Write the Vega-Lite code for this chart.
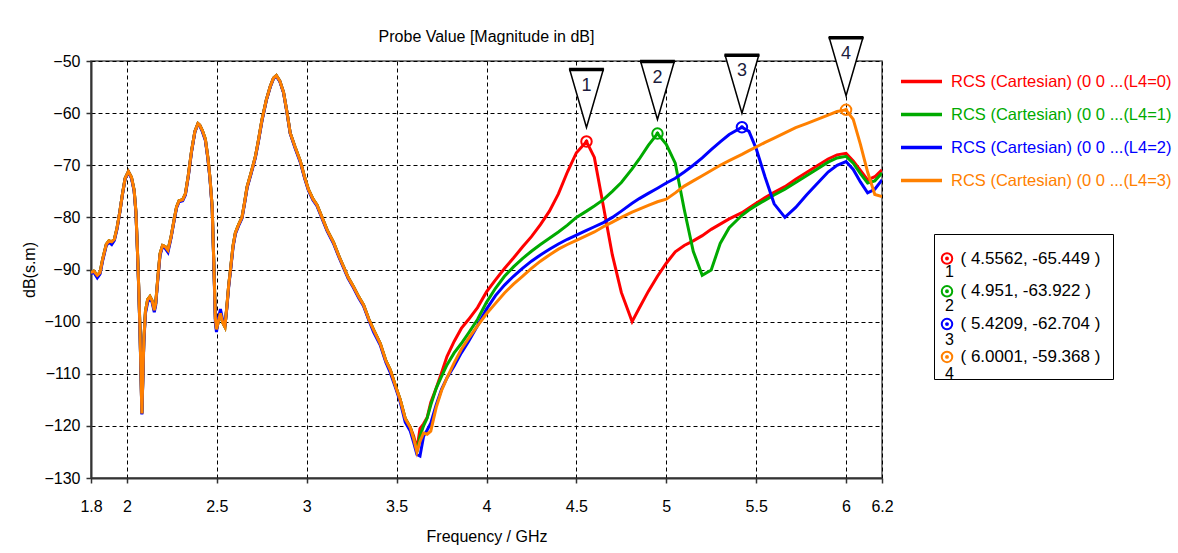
{
  "$schema": "https://vega.github.io/schema/vega-lite/v6.json",
  "width": 791,
  "height": 417,
  "autosize": {"type": "none"},
  "padding": {"left": 91, "top": 61, "right": 296, "bottom": 75},
  "background": "white",
  "title": {
    "text": "Probe Value [Magnitude in dB]",
    "fontSize": 16,
    "fontWeight": "normal",
    "font": "Liberation Sans",
    "color": "#000",
    "anchor": "middle",
    "baseline": "alphabetic",
    "offset": -27
  },
  "config": {
    "view": {"stroke": "#555", "strokeWidth": 1.5},
    "axis": {
      "labelFont": "Liberation Sans",
      "labelFontSize": 16,
      "labelColor": "#000",
      "titleFont": "Liberation Sans",
      "titleFontSize": 16,
      "titleFontWeight": "normal",
      "titleColor": "#000",
      "grid": true,
      "gridColor": "#000",
      "gridDash": [4, 3],
      "gridWidth": 1,
      "gridOpacity": 1,
      "tickColor": "#333",
      "tickSize": 5,
      "tickWidth": 1.5,
      "domainColor": "#333",
      "domainWidth": 2
    },
    "legend": {"labelFont": "Liberation Sans", "titleFont": "Liberation Sans"}
  },
  "datasets": {
    "curves": [
      {"f": 1.8, "L4=0": -90.6, "L4=1": -90.6, "L4=2": -90.8, "L4=3": -90.6},
      {"f": 1.815, "L4=0": -90.3, "L4=1": -90.3, "L4=2": -90.5, "L4=3": -90.3},
      {"f": 1.835, "L4=0": -91.1, "L4=1": -91.1, "L4=2": -91.6, "L4=3": -91.1},
      {"f": 1.85, "L4=0": -90.6, "L4=1": -90.6, "L4=2": -90.9, "L4=3": -90.6},
      {"f": 1.865, "L4=0": -88.0, "L4=1": -88.0, "L4=2": -88.3, "L4=3": -88.0},
      {"f": 1.885, "L4=0": -85.2, "L4=1": -85.2, "L4=2": -85.4, "L4=3": -85.2},
      {"f": 1.9, "L4=0": -84.5, "L4=1": -84.5, "L4=2": -84.8, "L4=3": -84.5},
      {"f": 1.915, "L4=0": -84.7, "L4=1": -84.7, "L4=2": -85.2, "L4=3": -84.7},
      {"f": 1.93, "L4=0": -84.2, "L4=1": -84.2, "L4=2": -84.4, "L4=3": -84.2},
      {"f": 1.945, "L4=0": -82.0, "L4=1": -82.0, "L4=2": -82.2, "L4=3": -82.0},
      {"f": 1.96, "L4=0": -79.0, "L4=1": -79.0, "L4=2": -79.1, "L4=3": -79.0},
      {"f": 1.975, "L4=0": -75.5, "L4=1": -75.5, "L4=2": -75.6, "L4=3": -75.5},
      {"f": 1.99, "L4=0": -72.5, "L4=1": -72.5, "L4=2": -72.6, "L4=3": -72.5},
      {"f": 2.008, "L4=0": -71.2, "L4=1": -71.2, "L4=2": -71.3, "L4=3": -71.2},
      {"f": 2.025, "L4=0": -72.3, "L4=1": -72.3, "L4=2": -72.5, "L4=3": -72.3},
      {"f": 2.04, "L4=0": -74.8, "L4=1": -74.8, "L4=2": -75.0, "L4=3": -74.8},
      {"f": 2.05, "L4=0": -79.0, "L4=1": -79.0, "L4=2": -79.2, "L4=3": -79.0},
      {"f": 2.058, "L4=0": -86.0, "L4=1": -86.0, "L4=2": -86.2, "L4=3": -86.0},
      {"f": 2.065, "L4=0": -93.0, "L4=1": -93.0, "L4=2": -93.3, "L4=3": -93.0},
      {"f": 2.072, "L4=0": -101.0, "L4=1": -101.0, "L4=2": -101.5, "L4=3": -101.0},
      {"f": 2.078, "L4=0": -110.0, "L4=1": -110.0, "L4=2": -110.3, "L4=3": -110.0},
      {"f": 2.083, "L4=0": -117.6, "L4=1": -117.6, "L4=2": -117.8, "L4=3": -117.6},
      {"f": 2.089, "L4=0": -110.0, "L4=1": -110.0, "L4=2": -110.4, "L4=3": -110.0},
      {"f": 2.094, "L4=0": -103.5, "L4=1": -103.5, "L4=2": -104.0, "L4=3": -103.5},
      {"f": 2.103, "L4=0": -98.0, "L4=1": -98.0, "L4=2": -98.4, "L4=3": -98.0},
      {"f": 2.115, "L4=0": -95.8, "L4=1": -95.8, "L4=2": -96.3, "L4=3": -95.8},
      {"f": 2.128, "L4=0": -95.2, "L4=1": -95.2, "L4=2": -95.5, "L4=3": -95.2},
      {"f": 2.14, "L4=0": -96.0, "L4=1": -96.0, "L4=2": -96.3, "L4=3": -96.0},
      {"f": 2.152, "L4=0": -97.8, "L4=1": -97.8, "L4=2": -98.2, "L4=3": -97.8},
      {"f": 2.16, "L4=0": -96.5, "L4=1": -96.5, "L4=2": -96.8, "L4=3": -96.5},
      {"f": 2.172, "L4=0": -91.5, "L4=1": -91.5, "L4=2": -91.8, "L4=3": -91.5},
      {"f": 2.184, "L4=0": -87.0, "L4=1": -87.0, "L4=2": -87.3, "L4=3": -87.0},
      {"f": 2.198, "L4=0": -85.4, "L4=1": -85.4, "L4=2": -85.6, "L4=3": -85.4},
      {"f": 2.212, "L4=0": -85.6, "L4=1": -85.6, "L4=2": -85.9, "L4=3": -85.6},
      {"f": 2.228, "L4=0": -86.3, "L4=1": -86.3, "L4=2": -86.7, "L4=3": -86.3},
      {"f": 2.245, "L4=0": -83.8, "L4=1": -83.8, "L4=2": -84.0, "L4=3": -83.8},
      {"f": 2.262, "L4=0": -80.5, "L4=1": -80.5, "L4=2": -80.7, "L4=3": -80.5},
      {"f": 2.276, "L4=0": -78.0, "L4=1": -78.0, "L4=2": -78.2, "L4=3": -78.0},
      {"f": 2.29, "L4=0": -76.8, "L4=1": -76.8, "L4=2": -77.0, "L4=3": -76.8},
      {"f": 2.31, "L4=0": -76.6, "L4=1": -76.6, "L4=2": -76.8, "L4=3": -76.6},
      {"f": 2.325, "L4=0": -75.5, "L4=1": -75.5, "L4=2": -75.7, "L4=3": -75.5},
      {"f": 2.341, "L4=0": -72.0, "L4=1": -72.0, "L4=2": -72.2, "L4=3": -72.0},
      {"f": 2.36, "L4=0": -67.1, "L4=1": -67.1, "L4=2": -67.3, "L4=3": -67.1},
      {"f": 2.378, "L4=0": -63.5, "L4=1": -63.5, "L4=2": -63.6, "L4=3": -63.5},
      {"f": 2.395, "L4=0": -62.0, "L4=1": -62.0, "L4=2": -62.1, "L4=3": -62.0},
      {"f": 2.405, "L4=0": -62.3, "L4=1": -62.3, "L4=2": -62.4, "L4=3": -62.3},
      {"f": 2.42, "L4=0": -63.4, "L4=1": -63.4, "L4=2": -63.6, "L4=3": -63.4},
      {"f": 2.436, "L4=0": -65.0, "L4=1": -65.0, "L4=2": -65.2, "L4=3": -65.0},
      {"f": 2.45, "L4=0": -68.5, "L4=1": -68.5, "L4=2": -68.7, "L4=3": -68.5},
      {"f": 2.462, "L4=0": -72.5, "L4=1": -72.5, "L4=2": -72.7, "L4=3": -72.5},
      {"f": 2.474, "L4=0": -78.0, "L4=1": -78.0, "L4=2": -78.3, "L4=3": -78.0},
      {"f": 2.483, "L4=0": -88.5, "L4=1": -88.5, "L4=2": -88.9, "L4=3": -88.5},
      {"f": 2.492, "L4=0": -99.5, "L4=1": -99.5, "L4=2": -100.3, "L4=3": -99.5},
      {"f": 2.498, "L4=0": -101.5, "L4=1": -101.5, "L4=2": -102.0, "L4=3": -101.5},
      {"f": 2.508, "L4=0": -100.0, "L4=1": -100.0, "L4=2": -99.6, "L4=3": -100.0},
      {"f": 2.52, "L4=0": -98.4, "L4=1": -98.4, "L4=2": -97.6, "L4=3": -98.4},
      {"f": 2.533, "L4=0": -100.2, "L4=1": -100.2, "L4=2": -99.8, "L4=3": -100.2},
      {"f": 2.545, "L4=0": -101.0, "L4=1": -101.0, "L4=2": -100.9, "L4=3": -101.0},
      {"f": 2.556, "L4=0": -97.0, "L4=1": -97.0, "L4=2": -97.3, "L4=3": -97.0},
      {"f": 2.566, "L4=0": -93.0, "L4=1": -93.0, "L4=2": -93.3, "L4=3": -93.0},
      {"f": 2.576, "L4=0": -90.0, "L4=1": -90.0, "L4=2": -90.3, "L4=3": -90.0},
      {"f": 2.59, "L4=0": -85.5, "L4=1": -85.5, "L4=2": -85.8, "L4=3": -85.5},
      {"f": 2.603, "L4=0": -83.0, "L4=1": -83.0, "L4=2": -83.2, "L4=3": -83.0},
      {"f": 2.62, "L4=0": -81.5, "L4=1": -81.5, "L4=2": -81.7, "L4=3": -81.5},
      {"f": 2.64, "L4=0": -80.0, "L4=1": -80.0, "L4=2": -80.2, "L4=3": -80.0},
      {"f": 2.655, "L4=0": -77.0, "L4=1": -77.0, "L4=2": -77.2, "L4=3": -77.0},
      {"f": 2.668, "L4=0": -74.2, "L4=1": -74.2, "L4=2": -74.4, "L4=3": -74.2},
      {"f": 2.69, "L4=0": -71.5, "L4=1": -71.5, "L4=2": -71.7, "L4=3": -71.5},
      {"f": 2.714, "L4=0": -68.4, "L4=1": -68.4, "L4=2": -68.6, "L4=3": -68.4},
      {"f": 2.73, "L4=0": -65.5, "L4=1": -65.5, "L4=2": -65.7, "L4=3": -65.5},
      {"f": 2.751, "L4=0": -61.3, "L4=1": -61.3, "L4=2": -61.5, "L4=3": -61.3},
      {"f": 2.775, "L4=0": -57.5, "L4=1": -57.5, "L4=2": -57.6, "L4=3": -57.5},
      {"f": 2.797, "L4=0": -54.9, "L4=1": -54.9, "L4=2": -55.0, "L4=3": -54.9},
      {"f": 2.815, "L4=0": -53.3, "L4=1": -53.3, "L4=2": -53.4, "L4=3": -53.3},
      {"f": 2.831, "L4=0": -52.8, "L4=1": -52.8, "L4=2": -52.9, "L4=3": -52.8},
      {"f": 2.85, "L4=0": -53.8, "L4=1": -53.8, "L4=2": -53.9, "L4=3": -53.8},
      {"f": 2.871, "L4=0": -56.0, "L4=1": -56.0, "L4=2": -56.1, "L4=3": -56.0},
      {"f": 2.89, "L4=0": -59.8, "L4=1": -59.8, "L4=2": -59.9, "L4=3": -59.8},
      {"f": 2.908, "L4=0": -63.8, "L4=1": -63.8, "L4=2": -63.9, "L4=3": -63.8},
      {"f": 2.935, "L4=0": -66.5, "L4=1": -66.5, "L4=2": -66.7, "L4=3": -66.5},
      {"f": 2.964, "L4=0": -69.2, "L4=1": -69.2, "L4=2": -69.4, "L4=3": -69.2},
      {"f": 2.99, "L4=0": -72.5, "L4=1": -72.5, "L4=2": -72.7, "L4=3": -72.5},
      {"f": 3.01, "L4=0": -74.7, "L4=1": -74.7, "L4=2": -74.9, "L4=3": -74.7},
      {"f": 3.035, "L4=0": -76.5, "L4=1": -76.5, "L4=2": -76.7, "L4=3": -76.5},
      {"f": 3.057, "L4=0": -77.6, "L4=1": -77.6, "L4=2": -77.8, "L4=3": -77.6},
      {"f": 3.085, "L4=0": -80.0, "L4=1": -80.0, "L4=2": -80.2, "L4=3": -80.0},
      {"f": 3.113, "L4=0": -82.4, "L4=1": -82.4, "L4=2": -82.6, "L4=3": -82.4},
      {"f": 3.149, "L4=0": -84.8, "L4=1": -84.8, "L4=2": -85.0, "L4=3": -84.8},
      {"f": 3.18, "L4=0": -87.5, "L4=1": -87.5, "L4=2": -87.7, "L4=3": -87.5},
      {"f": 3.205, "L4=0": -89.5, "L4=1": -89.5, "L4=2": -89.7, "L4=3": -89.5},
      {"f": 3.23, "L4=0": -91.5, "L4=1": -91.5, "L4=2": -91.7, "L4=3": -91.5},
      {"f": 3.26, "L4=0": -93.3, "L4=1": -93.3, "L4=2": -93.5, "L4=3": -93.3},
      {"f": 3.29, "L4=0": -95.3, "L4=1": -95.3, "L4=2": -95.5, "L4=3": -95.3},
      {"f": 3.316, "L4=0": -96.8, "L4=1": -96.8, "L4=2": -97.0, "L4=3": -96.8},
      {"f": 3.345, "L4=0": -99.5, "L4=1": -99.5, "L4=2": -99.7, "L4=3": -99.5},
      {"f": 3.372, "L4=0": -101.6, "L4=1": -101.6, "L4=2": -102.0, "L4=3": -101.6},
      {"f": 3.409, "L4=0": -104.2, "L4=1": -104.2, "L4=2": -104.5, "L4=3": -104.2},
      {"f": 3.44, "L4=0": -107.5, "L4=1": -107.5, "L4=2": -107.8, "L4=3": -107.5},
      {"f": 3.465, "L4=0": -109.3, "L4=1": -109.3, "L4=2": -109.8, "L4=3": -109.3},
      {"f": 3.495, "L4=0": -112.5, "L4=1": -112.5, "L4=2": -112.8, "L4=3": -112.5},
      {"f": 3.52, "L4=0": -115.0, "L4=1": -115.0, "L4=2": -115.4, "L4=3": -115.0},
      {"f": 3.548, "L4=0": -118.6, "L4=1": -118.6, "L4=2": -119.3, "L4=3": -118.6},
      {"f": 3.576, "L4=0": -120.3, "L4=1": -120.3, "L4=2": -121.0, "L4=3": -120.3},
      {"f": 3.595, "L4=0": -122.0, "L4=1": -122.5, "L4=2": -123.2, "L4=3": -122.5},
      {"f": 3.613, "L4=0": -124.5, "L4=1": -125.0, "L4=2": -125.5, "L4=3": -125.0},
      {"f": 3.63, "L4=0": -120.5, "L4=1": -122.0, "L4=2": -125.8, "L4=3": -123.0},
      {"f": 3.65, "L4=0": -119.6, "L4=1": -120.0, "L4=2": -122.0, "L4=3": -121.4},
      {"f": 3.67, "L4=0": -118.4, "L4=1": -118.5, "L4=2": -120.8, "L4=3": -121.6},
      {"f": 3.69, "L4=0": -115.5, "L4=1": -116.0, "L4=2": -119.5, "L4=3": -121.0},
      {"f": 3.72, "L4=0": -112.8, "L4=1": -112.8, "L4=2": -116.0, "L4=3": -116.5},
      {"f": 3.75, "L4=0": -109.8, "L4=1": -110.5, "L4=2": -113.0, "L4=3": -113.2},
      {"f": 3.78, "L4=0": -106.7, "L4=1": -108.3, "L4=2": -110.8, "L4=3": -110.8},
      {"f": 3.82, "L4=0": -103.8, "L4=1": -106.0, "L4=2": -108.5, "L4=3": -107.9},
      {"f": 3.86, "L4=0": -101.3, "L4=1": -104.2, "L4=2": -106.0, "L4=3": -105.3},
      {"f": 3.9, "L4=0": -99.6, "L4=1": -102.2, "L4=2": -103.8, "L4=3": -103.2},
      {"f": 3.95, "L4=0": -97.3, "L4=1": -99.6, "L4=2": -100.8, "L4=3": -100.8},
      {"f": 4.0, "L4=0": -94.3, "L4=1": -96.3, "L4=2": -97.6, "L4=3": -98.5},
      {"f": 4.05, "L4=0": -92.0, "L4=1": -93.6, "L4=2": -95.0, "L4=3": -96.5},
      {"f": 4.1, "L4=0": -89.8, "L4=1": -91.3, "L4=2": -93.0, "L4=3": -94.5},
      {"f": 4.15, "L4=0": -87.8, "L4=1": -89.5, "L4=2": -91.3, "L4=3": -92.8},
      {"f": 4.2, "L4=0": -85.7, "L4=1": -87.9, "L4=2": -89.8, "L4=3": -91.3},
      {"f": 4.25, "L4=0": -83.7, "L4=1": -86.5, "L4=2": -88.4, "L4=3": -89.8},
      {"f": 4.3, "L4=0": -81.4, "L4=1": -85.2, "L4=2": -87.2, "L4=3": -88.4},
      {"f": 4.35, "L4=0": -78.8, "L4=1": -84.0, "L4=2": -86.1, "L4=3": -87.2},
      {"f": 4.4, "L4=0": -75.5, "L4=1": -82.8, "L4=2": -85.1, "L4=3": -86.1},
      {"f": 4.45, "L4=0": -71.3, "L4=1": -81.5, "L4=2": -84.2, "L4=3": -85.2},
      {"f": 4.5, "L4=0": -67.6, "L4=1": -80.0, "L4=2": -83.4, "L4=3": -84.4},
      {"f": 4.5562, "L4=0": -65.449, "L4=1": -78.8, "L4=2": -82.5, "L4=3": -83.5},
      {"f": 4.6, "L4=0": -68.5, "L4=1": -77.8, "L4=2": -81.8, "L4=3": -82.8},
      {"f": 4.65, "L4=0": -77.8, "L4=1": -76.6, "L4=2": -81.0, "L4=3": -81.8},
      {"f": 4.7, "L4=0": -87.2, "L4=1": -75.0, "L4=2": -80.0, "L4=3": -80.9},
      {"f": 4.75, "L4=0": -94.4, "L4=1": -73.3, "L4=2": -78.8, "L4=3": -80.0},
      {"f": 4.81, "L4=0": -100.0, "L4=1": -70.7, "L4=2": -77.3, "L4=3": -79.0},
      {"f": 4.85, "L4=0": -97.4, "L4=1": -68.8, "L4=2": -76.4, "L4=3": -78.4},
      {"f": 4.9, "L4=0": -94.2, "L4=1": -66.2, "L4=2": -75.4, "L4=3": -77.7},
      {"f": 4.951, "L4=0": -91.3, "L4=1": -63.922, "L4=2": -74.4, "L4=3": -77.0},
      {"f": 5.0, "L4=0": -88.8, "L4=1": -66.0, "L4=2": -73.4, "L4=3": -76.5},
      {"f": 5.05, "L4=0": -86.6, "L4=1": -69.6, "L4=2": -72.5, "L4=3": -75.3},
      {"f": 5.1, "L4=0": -85.4, "L4=1": -78.5, "L4=2": -71.3, "L4=3": -74.0},
      {"f": 5.15, "L4=0": -84.5, "L4=1": -86.5, "L4=2": -70.0, "L4=3": -73.0},
      {"f": 5.2, "L4=0": -83.5, "L4=1": -91.1, "L4=2": -68.6, "L4=3": -72.0},
      {"f": 5.25, "L4=0": -82.3, "L4=1": -90.1, "L4=2": -67.0, "L4=3": -71.0},
      {"f": 5.3, "L4=0": -81.3, "L4=1": -85.0, "L4=2": -65.5, "L4=3": -70.0},
      {"f": 5.35, "L4=0": -80.3, "L4=1": -82.0, "L4=2": -64.1, "L4=3": -69.1},
      {"f": 5.4209, "L4=0": -79.1, "L4=1": -79.6, "L4=2": -62.704, "L4=3": -67.9},
      {"f": 5.46, "L4=0": -78.2, "L4=1": -78.6, "L4=2": -63.5, "L4=3": -67.2},
      {"f": 5.5, "L4=0": -77.3, "L4=1": -77.7, "L4=2": -66.8, "L4=3": -66.5},
      {"f": 5.55, "L4=0": -76.2, "L4=1": -76.7, "L4=2": -72.3, "L4=3": -65.6},
      {"f": 5.6, "L4=0": -75.2, "L4=1": -75.7, "L4=2": -77.4, "L4=3": -64.8},
      {"f": 5.66, "L4=0": -74.1, "L4=1": -74.6, "L4=2": -80.0, "L4=3": -63.8},
      {"f": 5.72, "L4=0": -72.7, "L4=1": -73.3, "L4=2": -78.1, "L4=3": -62.8},
      {"f": 5.78, "L4=0": -71.4, "L4=1": -72.0, "L4=2": -75.7, "L4=3": -62.0},
      {"f": 5.84, "L4=0": -70.1, "L4=1": -70.7, "L4=2": -73.5, "L4=3": -61.2},
      {"f": 5.9, "L4=0": -68.8, "L4=1": -69.4, "L4=2": -71.3, "L4=3": -60.4},
      {"f": 5.95, "L4=0": -68.0, "L4=1": -68.6, "L4=2": -70.0, "L4=3": -59.7},
      {"f": 6.0001, "L4=0": -67.7, "L4=1": -68.3, "L4=2": -69.3, "L4=3": -59.368},
      {"f": 6.04, "L4=0": -69.2, "L4=1": -69.6, "L4=2": -70.8, "L4=3": -61.2},
      {"f": 6.08, "L4=0": -71.0, "L4=1": -71.6, "L4=2": -73.2, "L4=3": -66.0},
      {"f": 6.12, "L4=0": -72.8, "L4=1": -73.4, "L4=2": -75.3, "L4=3": -71.3},
      {"f": 6.16, "L4=0": -72.2, "L4=1": -73.0, "L4=2": -74.6, "L4=3": -75.6},
      {"f": 6.2, "L4=0": -70.9, "L4=1": -71.5, "L4=2": -72.8, "L4=3": -76.0}
    ],
    "markers": [
      {"f": 4.5562, "v": -65.449, "num": "1", "coord": "( 4.5562, -65.449 )"},
      {"f": 4.951, "v": -63.922, "num": "2", "coord": "( 4.951, -63.922 )"},
      {"f": 5.4209, "v": -62.704, "num": "3", "coord": "( 5.4209, -62.704 )"},
      {"f": 6.0001, "v": -59.368, "num": "4", "coord": "( 6.0001, -59.368 )"}
    ]
  },
  "encoding": {
    "x": {
      "field": "f",
      "type": "quantitative",
      "scale": {"domain": [1.8, 6.2], "nice": false, "zero": false},
      "axis": {
        "values": [1.8, 2, 2.5, 3, 3.5, 4, 4.5, 5, 5.5, 6, 6.2],
        "format": "~g",
        "labelFlush": false,
        "labelOverlap": false,
        "labelPadding": 15,
        "title": "Frequency / GHz",
        "titlePadding": 14
      }
    },
    "y": {
      "field": "v",
      "type": "quantitative",
      "scale": {"domain": [-130, -50], "nice": false, "zero": false},
      "axis": {
        "values": [-130, -120, -110, -100, -90, -80, -70, -60, -50],
        "labelPadding": 6,
        "title": "dB(s.m)",
        "titlePadding": 6
      }
    }
  },
  "layer": [
    {
      "data": {"name": "curves"},
      "transform": [{"fold": ["L4=0", "L4=1", "L4=2", "L4=3"], "as": ["k", "v"]}],
      "mark": {"type": "line", "strokeWidth": 3, "clip": true},
      "encoding": {
        "color": {
          "field": "k",
          "type": "nominal",
          "scale": {"domain": ["L4=0", "L4=1", "L4=2", "L4=3"], "range": ["#ff0000", "#00aa00", "#0000ff", "#ff8000"]},
          "legend": {
            "orient": "none",
            "legendX": 808,
            "legendY": -2,
            "title": null,
            "padding": 0,
            "symbolType": "stroke",
            "symbolSize": 1681,
            "symbolStrokeWidth": 3.5,
            "labelFontSize": 16.5,
            "labelOffset": 7,
            "labelLimit": 400,
            "rowPadding": 2,
            "labelExpr": "'RCS (Cartesian) (0 0 ...(' + datum.label + ')'",
            "encode": {"labels": {"update": {"fill": {"scale": "color", "field": "value"}}}}
          }
        }
      }
    },
    {
      "data": {"name": "markers"},
      "mark": {
        "type": "point",
        "shape": "M-1,0A1,1 0 1,1 1,0A1,1 0 1,1 -1,0ZM-0.18,0A0.18,0.18 0 1,1 0.18,0A0.18,0.18 0 1,1 -0.18,0Z",
        "filled": false,
        "size": 110,
        "strokeWidth": 2,
        "opacity": 1
      },
      "encoding": {
        "stroke": {
          "field": "coord",
          "type": "nominal",
          "scale": {
            "domain": ["( 4.5562, -65.449 )", "( 4.951, -63.922 )", "( 5.4209, -62.704 )", "( 6.0001, -59.368 )"],
            "range": ["#ff0000", "#00aa00", "#0000ff", "#ff8000"]
          },
          "legend": {
            "orient": "none",
            "legendX": 843,
            "legendY": 173,
            "title": " ",
            "titleFontSize": 1,
            "titlePadding": 3,
            "padding": 12,
            "strokeColor": "#000",
            "symbolType": "M-1,0A1,1 0 1,1 1,0A1,1 0 1,1 -1,0ZM-0.18,0A0.18,0.18 0 1,1 0.18,0A0.18,0.18 0 1,1 -0.18,0Z",
            "symbolSize": 110,
            "symbolStrokeWidth": 2,
            "symbolOffset": -7.5,
            "labelFontSize": 17,
            "labelOffset": 5,
            "labelLimit": 300,
            "rowPadding": 13.8,
            "encode": {
              "labels": {"update": {"fill": {"scale": "stroke", "field": "value"}}},
              "legend": {"update": {"strokeWidth": {"value": 2.5}}}
            }
          }
        }
      }
    },
    {
      "data": {"name": "markers"},
      "mark": {
        "type": "point",
        "shape": "M-0.58,-1L0.58,-1L0,1Z",
        "size": 3364,
        "filled": true,
        "fill": "white",
        "stroke": "#000",
        "strokeWidth": 1.5,
        "opacity": 1,
        "yOffset": -43
      }
    },
    {
      "data": {"name": "markers"},
      "mark": {
        "type": "point",
        "shape": "M-0.6,-1L0.6,-1",
        "size": 3364,
        "filled": false,
        "stroke": "#000",
        "strokeWidth": 3.5,
        "opacity": 1,
        "yOffset": -43
      }
    },
    {
      "data": {"name": "markers"},
      "mark": {
        "type": "text",
        "font": "Liberation Sans",
        "fontSize": 18,
        "baseline": "middle",
        "align": "center",
        "yOffset": -56
      },
      "encoding": {
        "text": {"field": "num"},
        "fill": {
          "field": "num",
          "type": "nominal",
          "scale": {"domain": ["1", "2", "3", "4"], "range": ["#1c1c3c", "#1c1c3c", "#1c1c3c", "#1c1c3c"]},
          "legend": {
            "orient": "none",
            "legendX": 843,
            "legendY": 173,
            "title": " ",
            "titleFontSize": 1,
            "titlePadding": 3,
            "padding": 12,
            "symbolOpacity": 0,
            "symbolSize": 110,
            "labelFontSize": 17,
            "labelOffset": -17,
            "labelColor": "#000",
            "labelBaseline": "top",
            "rowPadding": 4.3,
            "encode": {"labels": {"update": {"fontSize": {"value": 16}, "dy": {"value": 5.5}}}}
          }
        }
      }
    }
  ]
}
